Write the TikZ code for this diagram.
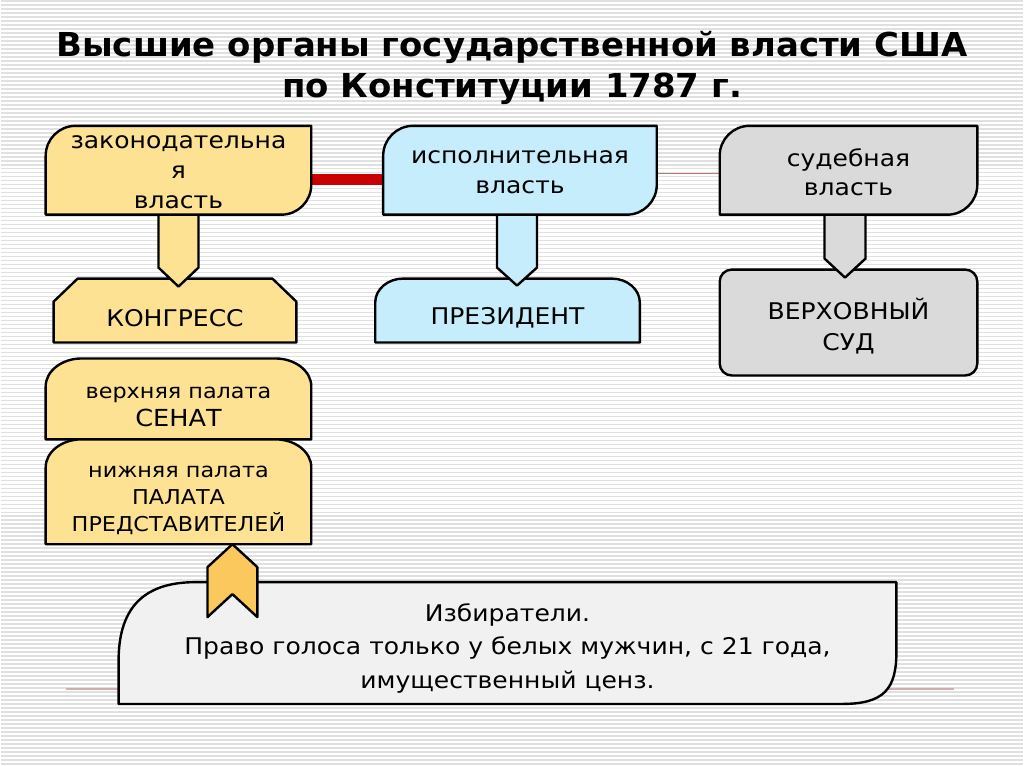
\documentclass[tikz,border=0pt]{standalone}
\usepackage{fontspec}
\setmainfont[FakeStretch=1.09]{DejaVu Sans}
\newfontfamily\ttlfont[FakeStretch=1.03]{DejaVu Sans Bold}
\usetikzlibrary{calc}
\pgfdeclarelayer{back}
\pgfdeclarelayer{bg}
\pgfsetlayers{back,bg,main}
\definecolor{legY}{RGB}{252,226,146}
\definecolor{exeB}{RGB}{198,237,251}
\definecolor{judG}{RGB}{218,218,218}
\definecolor{votG}{RGB}{241,241,241}
\definecolor{chevO}{RGB}{250,200,92}
\definecolor{stripeG}{RGB}{224,224,224}
\definecolor{barR}{RGB}{200,0,0}
\definecolor{thinR}{RGB}{190,120,120}
\definecolor{baseL}{RGB}{205,175,175}
% top-left & bottom-right rounded box: x1 y1 x2 y2 r
\newcommand\pTLBR[5]{(#1,#4) -- (#1,{#2+#5}) .. controls (#1,{#2+0.448*#5}) and ({#1+0.448*#5},#2) .. ({#1+#5},#2) -- (#3,#2) -- (#3,{#4-#5}) .. controls (#3,{#4-0.448*#5}) and ({#3-0.448*#5},#4) .. ({#3-#5},#4) -- cycle}
% top corners rounded: x1 y1 x2 y2 rx ry
\newcommand\pTopR[6]{(#1,#4) -- (#1,{#2+#6}) .. controls (#1,{#2+0.448*#6}) and ({#1+0.448*#5},#2) .. ({#1+#5},#2) -- ({#3-#5},#2) .. controls ({#3-0.448*#5},#2) and (#3,{#2+0.448*#6}) .. (#3,{#2+#6}) -- (#3,#4) -- cycle}
\begin{document}
\begin{tikzpicture}[x=1pt,y=-1pt,
  outl/.style={draw=black, line width=2.4pt, line join=round},
  boxn/.style={inner sep=0pt, outer sep=0pt},
  txt/.style={align=center, inner sep=0pt, font=\fontsize{23}{30.5}\selectfont},
  txts/.style={align=center, inner sep=0pt, font=\fontsize{20.5}{27}\selectfont},
  ttl/.style={inner sep=0pt, font=\fontsize{33}{41}\selectfont\ttlfont, align=center},
]
\begin{pgfonlayer}{back}
\fill[white] (0,0) rectangle (1024,767);
\foreach \yy in {1,5,...,765} \draw[stripeG, line width=1.5pt] (0,\yy) -- (1024,\yy);
\draw[baseL, line width=1.5pt] (65,690) -- (955,690);
\end{pgfonlayer}

% box nodes (invisible frames)
\node[boxn, minimum width=266pt, minimum height=89pt] (leg) at (178,170.5) {};
\node[boxn, minimum width=274pt, minimum height=89pt] (exe) at (520,170.5) {};
\node[boxn, minimum width=258pt, minimum height=89pt] (jud) at (849,170.5) {};
\node[boxn, minimum width=243pt, minimum height=64pt] (con) at (174.5,311) {};
\node[boxn, minimum width=265pt, minimum height=64pt] (pre) at (507.5,311) {};
\node[boxn, minimum width=258pt, minimum height=106pt] (sup) at (849,323) {};
\node[boxn, minimum width=266pt, minimum height=81pt] (sen) at (178,399.5) {};
\node[boxn, minimum width=266pt, minimum height=105pt] (hou) at (178,492.5) {};
\node[boxn, minimum width=779pt, minimum height=122pt] (vot) at (507.5,644) {};

\begin{pgfonlayer}{bg}
% connectors between the top boxes
\draw[barR, line width=11pt] ([yshift=-9.5pt]leg.east) -- ([yshift=-9.5pt]exe.west);
\draw[thinR, line width=1.2pt] ([yshift=-3.5pt]exe.east) -- ([yshift=-3.5pt]jud.west);
% lower boxes
\draw[outl, fill=legY] (53,343) -- (53,302) -- (77,279) -- (272,279) -- (296,302) -- (296,343) -- cycle;
\draw[outl, fill=exeB] \pTopR{375}{279}{640}{343}{28}{24};
\draw[outl, fill=judG, rounded corners=12pt] (sup.north west) rectangle (sup.south east);
\draw[outl, fill=legY] \pTopR{45}{359}{311}{440}{36}{28};
\draw[outl, fill=legY] \pTopR{45}{440}{311}{545}{36}{28};
\draw[outl, fill=votG] (118,705) -- (118,662) .. controls (118,612) and (140,583) .. (195,583) -- (897,583) -- (897,652) .. controls (897,690) and (885,705) .. (842,705) -- cycle;
% block arrows
\draw[outl, fill=legY] ($(leg.south)+(-20,-5)$) -- ($(leg.south)+(-20,53)$) -- ($(leg.south)+(0,72)$) -- ($(leg.south)+(20,53)$) -- ($(leg.south)+(20,-5)$);
\draw[outl, fill=exeB] ($(exe.south)+(-23,-5)$) -- ($(exe.south)+(-23,53)$) -- ($(exe.south)+(-3,71)$) -- ($(exe.south)+(17,53)$) -- ($(exe.south)+(17,-5)$);
\draw[outl, fill=judG] ($(jud.south)+(-24,-5)$) -- ($(jud.south)+(-24,44)$) -- ($(jud.south)+(-3.5,63)$) -- ($(jud.south)+(17,44)$) -- ($(jud.south)+(17,-5)$);
% top boxes
\draw[outl, fill=legY] \pTLBR{45}{126}{311}{215}{30};
\draw[outl, fill=exeB] \pTLBR{383}{126}{657}{215}{30};
\draw[outl, fill=judG] \pTLBR{720}{126}{978}{215}{30};
% chevron from voters to house
\draw[outl, fill=chevO] (207,568) -- ($(hou.south)+(54,0)$) -- (257,568) -- (257,618) -- (232,595) -- (207,618) -- cycle;
\end{pgfonlayer}

% title
\node[ttl] (title) at (512,68) {Высшие органы государственной власти США\\по Конституции 1787 г.};
% texts
\node[txt] (legT) at ($(leg.center)+(0,2)$) {законодательна\\я\\власть};
\node[txt, font=\fontsize{23}{30}\selectfont] (exeT) at ($(exe.center)+(0,2)$) {исполнительная\\власть};
\node[txt, font=\fontsize{23}{30}\selectfont] (judT) at ($(jud.center)+(0,2)$) {судебная\\власть};
\node[txt] (conT) at ($(con.center)+(0,8)$) {КОНГРЕСС};
\node[txt] (preT) at ($(pre.center)+(0,7.5)$) {ПРЕЗИДЕНТ};
\node[txt, font=\fontsize{23}{31}\selectfont] (supT) at ($(sup.center)+(0,3.5)$) {ВЕРХОВНЫЙ\\СУД};
\node[txts, font=\fontsize{20.5}{28}\selectfont] (senT) at ($(sen.center)+(0,8)$) {верхняя палата\\{\fontsize{23.5}{28}\selectfont СЕНАТ}};
\node[txts] (houT) at ($(hou.center)+(0,9)$) {нижняя палата\\ПАЛАТА\\ПРЕДСТАВИТЕЛЕЙ};
\node[txt, font=\fontsize{23}{33.5}\selectfont] (votT) at ($(vot.center)+(0,5)$) {Избиратели.\\Право голоса только у белых мужчин, с 21 года,\\имущественный ценз.};
\end{tikzpicture}
\end{document}
